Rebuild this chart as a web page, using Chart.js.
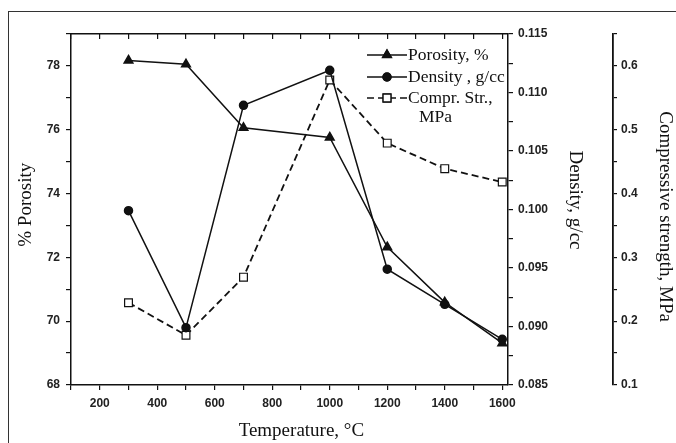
<!DOCTYPE html>
<html>
<head>
<meta charset="utf-8">
<script src="https://cdn.jsdelivr.net/npm/chart.js@4/dist/chart.umd.min.js"></script>
<style>
  html, body { margin: 0; padding: 0; background: #fff; overflow: hidden; }
  #wrap { position: relative; width: 676px; height: 443px; }
  #frame { position: absolute; left: 8px; top: 11px; width: 800px; height: 600px;
           border-left: 1.5px solid #333; border-top: 1.5px solid #333; }
  canvas { position: absolute; left: 0; top: 0; }
</style>
</head>
<body>
<div id="wrap">
  <div id="frame"></div>
  <canvas id="c" width="676" height="443"></canvas>
</div>
<script>
// ---- data ----
const temperatures = [300, 500, 700, 1000, 1200, 1400, 1600];
const porosity     = [78.17, 78.05, 76.06, 75.76, 72.32, 70.59, 69.31];
const density      = [0.0999, 0.0899, 0.1089, 0.1119, 0.0949, 0.0919, 0.0889];
const comprStrength= [0.229, 0.178, 0.269, 0.578, 0.479, 0.439, 0.418];

const seriesNames = ['Porosity, %', 'Density , g/cc', ['Compr. Str.,', 'MPa']];

const xTickLabels       = [200, 400, 600, 800, 1000, 1200, 1400, 1600];
const porosityTicks     = [68, 70, 72, 74, 76, 78];
const densityTicks      = [0.085, 0.090, 0.095, 0.100, 0.105, 0.110, 0.115];
const strengthTicks     = [0.1, 0.2, 0.3, 0.4, 0.5, 0.6];

const ink = '#111';
const tickFont = { family: 'Liberation Sans', size: 12, weight: 'bold' };
const titleFont = { family: 'Liberation Serif', size: 19 };

function isIn(list, v) { return list.some(t => Math.abs(t - v) < 1e-9); }

function pts(ys) { return temperatures.map((t, i) => ({ x: t, y: ys[i] })); }

const legendPlugin = {
  id: 'insideLegend',
  afterDatasetsDraw(chart) {
    const ctx = chart.ctx;
    const ca = chart.chartArea;
    const x0 = ca.left + 296, x1 = ca.left + 336;
    const rows = [ca.top + 21, ca.top + 43, ca.top + 64];
    const lineH = 19;
    ctx.save();
    ctx.font = '17.5px "Liberation Serif"';
    ctx.fillStyle = ink;
    ctx.textBaseline = 'middle';
    chart.data.datasets.forEach((ds, i) => {
      const y = rows[i];
      ctx.strokeStyle = ink;
      ctx.lineWidth = 1.5;
      ctx.setLineDash(ds.borderDash || []);
      ctx.beginPath(); ctx.moveTo(x0, y); ctx.lineTo(x1, y); ctx.stroke();
      ctx.setLineDash([]);
      Chart.helpers.drawPoint(ctx, {
        pointStyle: ds.pointStyle, radius: ds.pointRadius, borderWidth: 1.2
      }, (x0 + x1) / 2, y);
      ctx.fillStyle = ds.pointBackgroundColor;
      ctx.strokeStyle = ink;
      ctx.lineWidth = 1.2;
      ctx.fill(); ctx.stroke();
      ctx.fillStyle = ink;
      const lines = Array.isArray(seriesNames[i]) ? seriesNames[i] : [seriesNames[i]];
      lines.forEach((t, k) => ctx.fillText(t, x1 + 1 + (k ? 11 : 0), y + k * lineH));
    });
    ctx.restore();
  }
};

new Chart(document.getElementById('c'), {
  type: 'line',
  data: {
    datasets: [
      { label: 'Porosity, %', data: pts(porosity), yAxisID: 'y',
        borderColor: ink, borderWidth: 1.5, pointStyle: 'triangle', pointRadius: 5,
        pointBackgroundColor: ink, pointBorderColor: ink },
      { label: 'Density , g/cc', data: pts(density), yAxisID: 'y1',
        borderColor: ink, borderWidth: 1.5, pointStyle: 'circle', pointRadius: 4,
        pointBackgroundColor: ink, pointBorderColor: ink },
      { label: 'Compr. Str., MPa', data: pts(comprStrength), yAxisID: 'y2',
        borderColor: ink, borderWidth: 1.8, borderDash: [7, 4], pointStyle: 'rect', pointRadius: 5.5,
        pointBackgroundColor: '#fff', pointBorderColor: ink, pointBorderWidth: 1.2 }
    ]
  },
  options: {
    responsive: false,
    animation: false,
    devicePixelRatio: 1,
    layout: { padding: { top: 34, left: 0, right: 0, bottom: 0 } },
    plugins: { legend: { display: false }, tooltip: { enabled: false } },
    scales: {
      x: {
        type: 'linear', position: 'bottom', min: 100, max: 1620,
        afterFit: s => { s.height = 58; },
        border: { color: ink, width: 1.5 },
        grid: { drawOnChartArea: false, tickLength: 5, color: ink, lineWidth: 1.2 },
        ticks: { stepSize: 100, includeBounds: false, autoSkip: false, maxRotation: 0,
                 padding: 6, color: '#222', font: tickFont,
                 callback: v => isIn(xTickLabels, v) ? String(v) : '' },
        title: { display: true, text: '     Temperature, °C', color: ink, font: titleFont,
                 padding: { top: 0, bottom: 0.5 } }
      },
      xTop: {
        type: 'linear', position: 'top', min: 100, max: 1620,
        afterFit: s => { s.height = 0; },
        border: { color: ink, width: 1.5 },
        grid: { drawOnChartArea: false, tickLength: -5, color: ink, lineWidth: 1.2 },
        ticks: { display: false, stepSize: 100, includeBounds: false, autoSkip: false }
      },
      y: {
        type: 'linear', position: 'left', min: 68, max: 79,
        afterFit: s => { s.width = 71; },
        border: { color: ink, width: 1.5 },
        grid: { drawOnChartArea: false, tickLength: 5, color: ink, lineWidth: 1.2 },
        ticks: { stepSize: 1, includeBounds: false, autoSkip: false, padding: 6,
                 color: '#222', font: tickFont,
                 callback: v => isIn(porosityTicks, v) ? String(v) : '' },
        title: { display: true, text: '  % Porosity', color: ink, font: titleFont,
                 padding: { top: 15, bottom: 0 } }
      },
      y1: {
        type: 'linear', position: 'right', min: 0.085, max: 0.115,
        afterFit: s => { s.width = 105; },
        border: { color: ink, width: 1.5 },
        grid: { drawOnChartArea: false, tickLength: 5, color: ink, lineWidth: 1.2 },
        ticks: { stepSize: 0.0025, includeBounds: false, autoSkip: false, padding: 5,
                 color: '#222', font: tickFont,
                 callback: v => isIn(densityTicks, v) ? v.toFixed(3) : '' },
        title: { display: true, text: 'Density, g/cc    ', color: ink, font: titleFont,
                 padding: { top: 26.5, bottom: 0 } }
      },
      y2: {
        type: 'linear', position: 'right', min: 0.1, max: 0.65,
        afterFit: s => { s.width = 63; },
        border: { color: ink, width: 1.8 },
        grid: { drawOnChartArea: false, tickLength: 4, color: ink, lineWidth: 1.2 },
        ticks: { stepSize: 0.05, includeBounds: false, autoSkip: false, padding: 4,
                 color: '#222', font: tickFont,
                 callback: v => isIn(strengthTicks, v) ? v.toFixed(1) : '' },
        title: { display: true, text: '   Compressive strength, MPa', color: ink, font: titleFont,
                 padding: { top: 0, bottom: 0 } }
      }
    }
  },
  plugins: [legendPlugin]
});
</script>
</body>
</html>
